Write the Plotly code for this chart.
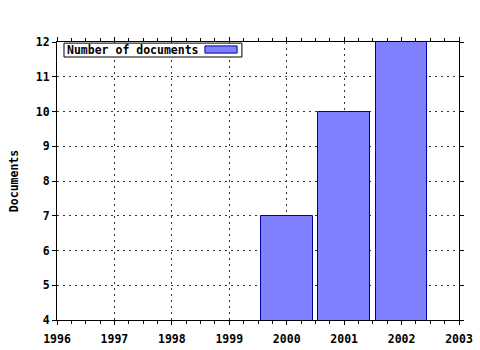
import plotly.graph_objects as go

years = [2000, 2001, 2002]
documents = [7, 10, 12]
x_ticks = [1996, 1997, 1998, 1999, 2000, 2001, 2002, 2003]
y_ticks = [4, 5, 6, 7, 8, 9, 10, 11, 12]
series_name = "Number of documents"

FONT = dict(family="DejaVu Sans Mono", size=11.5, color="black", weight="bold")

fig = go.Figure()
fig.add_trace(go.Bar(
    x=years, y=documents, width=0.9, name=series_name,
    marker=dict(color="#8080ff", line=dict(color="#0000a0", width=1)),
    showlegend=False,
))

axis_common = dict(
    showline=True, linecolor="black", linewidth=1, mirror="ticks",
    ticks="outside", ticklen=4, tickcolor="black", tickwidth=1,
    showgrid=True, gridcolor="#333333", griddash="2px,4px", gridwidth=1,
    zeroline=False, tickfont=FONT, automargin=False,
)

fig.update_xaxes(range=[1996, 2003], tickvals=x_ticks, ticktext=[str(v) for v in x_ticks],
                 ticklabelstandoff=4,
                 minor=dict(dtick=0.25, tick0=1996, ticklen=3, ticks="outside", tickcolor="black", showgrid=False),
                 **axis_common)
fig.update_yaxes(range=[4, 12], tickvals=y_ticks,
                 title=dict(text="Documents", font=FONT, standoff=14),
                 **axis_common)

# gnuplot-style key: text then swatch inside a box
fig.add_shape(type="rect", xref="paper", yref="paper",
              x0=0.0174, x1=0.460, y0=0.946, y1=0.996,
              line=dict(color="black", width=1), fillcolor="white", layer="above")
fig.add_shape(type="rect", xref="paper", yref="paper",
              x0=0.368, x1=0.448, y0=0.960, y1=0.986,
              line=dict(color="#0000a0", width=1), fillcolor="#8080ff", layer="above")
fig.add_annotation(text=series_name, xref="paper", yref="paper",
                   x=0.0199, y=0.971, xanchor="left", yanchor="middle",
                   showarrow=False, font=FONT)

fig.update_layout(
    width=480, height=350,
    margin=dict(l=57, r=21, t=42, b=30, autoexpand=False),
    paper_bgcolor="white", plot_bgcolor="white",
    bargap=0,
)

fig.write_html("out.html")
